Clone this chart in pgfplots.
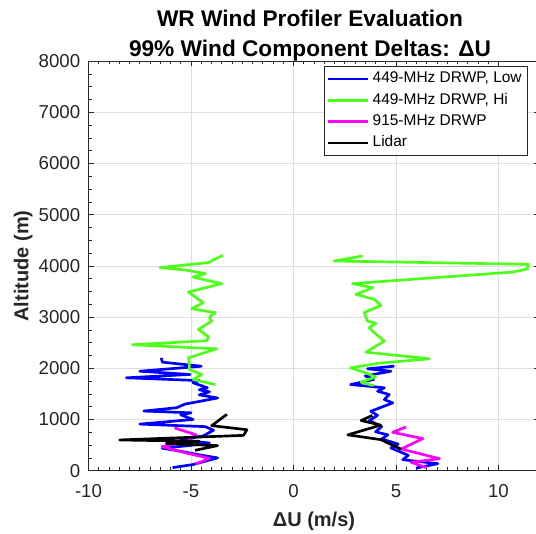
\documentclass[border=0pt]{standalone}
\usepackage{pgfplots}
\pgfplotsset{compat=1.18}
\usepackage{fontspec}
\setmainfont{Liberation Sans}
\definecolor{cblue}{RGB}{0,0,255}
\definecolor{cgreen}{RGB}{77,255,26}
\definecolor{cmag}{RGB}{255,0,255}
\definecolor{axgray}{RGB}{38,38,38}
\begin{document}
\begin{tikzpicture}
\begin{axis}[
  at={(0,0)}, anchor=south west,
  scale only axis, width=338.25pt, height=307.2pt,
  xmin=-10, xmax=12, ymin=0, ymax=8000,
  xtick={-10,-5,0,5,10}, ytick={0,1000,2000,3000,4000,5000,6000,7000,8000},
  minor x tick num=9, minor y tick num=3,
  tick align=inside, major tick length=4pt, minor tick length=2.5pt,
  grid=major, major grid style={color=black!13, line width=0.5pt},
  axis line style={color=axgray, line width=0.5pt},
  every tick/.style={color=axgray, line width=0.5pt},
  tick label style={font=\fontsize{14}{16}\selectfont, color=axgray, inner sep=0pt},
  /pgf/number format/assume math mode=true,
  /pgf/number format/1000 sep={},
  scaled ticks=false,
  xticklabel style={anchor=base, yshift=-20pt},
  yticklabel style={anchor=east, xshift=-6pt},
  title={WR Wind Profiler Evaluation\\99\% Wind Component Deltas: ΔU},
  title style={font=\bfseries\fontsize{17}{22.5}\selectfont, align=center, anchor=south, at={(axis description cs:0.5,1)}, xshift=-3pt, yshift=-9.5pt, color=black},
  xlabel={ΔU (m/s)},
  xlabel style={font=\bfseries\fontsize{15}{18}\selectfont, at={(axis description cs:0.5,0)}, anchor=base, yshift=-42pt, color=axgray},
  ylabel={Altitude (m)},
  ylabel style={font=\bfseries\fontsize{15}{18}\selectfont, at={(axis description cs:0,0.5)}, anchor=center, yshift=49pt, color=axgray},
  unbounded coords=jump,
  legend cell align=left,
  legend style={at={(axis description cs:0.9745,0.988)}, anchor=north east, draw=axgray, line width=0.5pt, fill=white,
    font=\fontsize{11.6}{13}\selectfont, inner xsep=2pt, inner ysep=1.5pt, row sep=0pt,
    nodes={text height=8.4pt, text depth=2.6pt, inner sep=2.5pt}},
  legend image code/.code={\draw[#1] (0pt,0pt) -- (30pt,0pt);},
  every axis plot/.append style={line width=2pt, line join=round},
]
\addplot[cblue] coordinates {
(-5.9,60) (-4.9,120) (-3.7,250) (-4.6,310) (-5.5,380) (-6.4,440) (-5.1,490) (-4.1,540) (-5.5,600) (-4.4,680) (-3.9,790) (-4.3,860) (-7.5,910) (-4.9,1000) (-5.5,1090) (-5.0,1130) (-7.3,1165) (-5.7,1230) (-5.3,1300) (-4.5,1360) (-3.7,1420) (-4.6,1480) (-4.1,1540) (-4.6,1580) (-4.2,1620) (-4.9,1716) (-4.6,1760) (-8.15,1814) (-5.05,1880) (-7.5,1943) (-4.5,2040) (-6.4,2120) (-6.45,2205)
(nan,nan)
(5.98,52) (7.04,137) (5.33,215) (5.6,300) (4.75,444) (5.1,520) (4.3,620) (4.6,700) (4.0,760) (4.3,860) (3.7,980) (4.1,1080) (3.77,1161) (4.84,1324) (4.43,1389) (4.67,1487) (4.1,1553) (4.43,1619) (2.79,1683) (3.9,1780) (3.5,1850) (4.75,1943) (3.61,1990) (4.92,2042)
};
\addlegendentry{449-MHz DRWP, Low}
\addplot[cgreen] coordinates {
(-3.82,1683) (-4.89,1781) (-4.48,1879) (-5.08,1977) (-5.08,2100) (-5.13,2205) (-3.75,2380) (-7.86,2460) (-4.23,2540) (-4.15,2616) (-4.64,2759) (-3.99,2922) (-4.1,3000) (-3.82,3086) (-4.97,3164) (-4.4,3282) (-5.13,3490) (-3.5,3654) (-4.9,3780) (-4.3,3850) (-5.29,3920) (-6.52,3967) (-4.15,4065) (-3.45,4208)
(nan,nan)
(3.9,1660) (3.3,1730) (4.0,1830) (3.6,1900) (2.79,2010) (4.2,2100) (6.63,2186) (3.53,2315) (4.43,2531) (3.94,2694) (3.69,2792) (4.02,2877) (3.61,2922) (3.45,3086) (4.26,3229) (3.94,3346) (3.04,3444) (3.86,3575) (2.88,3654) (10.7,3880) (11.4,3940) (11.46,4031) (1.98,4096) (3.37,4194)
};
\addlegendentry{449-MHz DRWP, Hi}
\addplot[cmag] coordinates {
(-4.8,130) (-4.1,240) (-5.4,360) (-6.4,470) (-5.2,570) (-4.75,700) (-5.8,835)
(nan,nan)
(6.5,60) (5.74,163) (7.12,235) (5.25,424) (6.31,626) (4.84,750) (5.49,855)
};
\addlegendentry{915-MHz DRWP}
\addplot[black] coordinates {
(-4.8,398) (-3.7,490) (-6.2,530) (-4.6,575) (-8.48,600) (-2.44,690) (-2.27,800) (-3.99,880) (-3.25,1100)
(nan,nan)
(5.25,420) (4.26,607) (2.65,700) (4.26,890) (3.3,980) (3.85,1080)
};
\addlegendentry{Lidar}
\end{axis}
\pgfresetboundingbox
\useasboundingbox (-66.375pt,-47.475pt) rectangle (335.625pt,353.025pt);
\end{tikzpicture}
\end{document}
